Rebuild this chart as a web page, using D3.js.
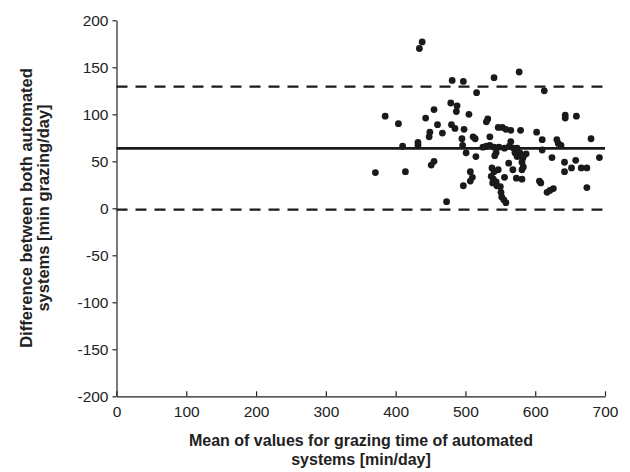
<!DOCTYPE html>
<html>
<head>
<meta charset="utf-8">
<script src="https://cdn.jsdelivr.net/npm/d3@7"></script>
<style>
  body { margin: 0; background: #fff; }
  svg { display: block; }
  .axis text { font-family: "Liberation Sans", Arial, sans-serif; font-size: 15.5px; fill: #222; }
  .axis path, .axis line { stroke: #222; stroke-width: 1.2; }
  .title { font-family: "Liberation Sans", Arial, sans-serif; font-weight: bold; fill: #222; }
</style>
</head>
<body>
<svg id="chart"></svg>
<script>
// Mean of both systems (x) and their difference (y)
var meanValues = [
  438, 434, 481, 497, 516, 541, 577, 613, 479, 488,
  455, 487, 505, 385, 404, 443, 460, 480, 485, 498,
  532, 530, 449, 448, 467, 495, 511, 514, 535, 432,
  432, 410, 496, 525, 501, 515, 455, 451, 371, 414,
  507, 510, 507, 497, 473, 547, 553, 558, 565, 579,
  565, 535, 530, 541, 548, 556, 563, 569, 574, 544,
  542, 571, 578, 574, 582, 587, 583, 581, 583, 581,
  562, 568, 538, 541, 547, 537, 540, 544, 539, 556,
  573, 581, 545, 550, 551, 552, 555, 558, 602, 610,
  631, 633, 637, 643, 643, 659, 680, 610, 624, 642,
  642, 658, 652, 666, 674, 692, 606, 608, 674, 617,
  621, 626
]
var differences = [
  177, 170, 136, 135, 123, 139, 145, 125, 112, 109,
  105, 103, 100, 98, 90, 96, 89, 89, 85, 84,
  95, 92, 81, 76, 80, 74, 76, 74, 76, 70,
  67, 66, 67, 65, 59, 55, 50, 46, 38, 39,
  39, 33, 29, 24, 7, 86, 86, 84, 83, 83,
  71, 67, 66, 65, 65, 64, 66, 64, 64, 59,
  56, 59, 59, 55, 53, 58, 55, 49, 44, 41,
  48, 41, 43, 39, 41, 34, 31, 28, 27, 33,
  32, 31, 24, 23, 17, 12, 9, 6, 81, 73,
  73, 69, 67, 99, 96, 98, 74, 62, 54, 49,
  39, 51, 43, 43, 43, 54, 29, 27, 22, 17,
  19, 21
]
// Mean difference and limits of agreement
var meanDiff = [63.8]
var limits = [129.4, -1.4]
var xTicks = [0, 100, 200, 300, 400, 500, 600, 700]
var yTicks = [-200, -150, -100, -50, 0, 50, 100, 150, 200]

var WIDTH = 630
var HEIGHT = 472
var margin = { top: 20.3, right: 25, bottom: 75.7, left: 116.5 }
var innerW = WIDTH - margin.left - margin.right
var innerH = HEIGHT - margin.top - margin.bottom

var svg = d3.select('#chart')
  .attr('width', WIDTH)
  .attr('height', HEIGHT)

var g = svg.append('g')
  .attr('transform', 'translate(' + margin.left + ',' + margin.top + ')')

var x = d3.scaleLinear().domain([0, 700]).range([0, innerW])
var y = d3.scaleLinear().domain([-200, 200]).range([innerH, 0])

// Axes (plain hyphen for negatives, as in the original)
g.append('g')
  .attr('class', 'axis')
  .call(d3.axisLeft(y).tickValues(yTicks).tickSizeInner(4).tickSizeOuter(0).tickPadding(4)
    .tickFormat(function (d) { return String(d) }))

g.append('g')
  .attr('class', 'axis')
  .attr('transform', 'translate(0,' + innerH + ')')
  .call(d3.axisBottom(x).tickValues(xTicks).tickSizeInner(-5).tickSizeOuter(0).tickPadding(10))

// Reference lines
g.append('g')
  .selectAll('line.mean')
  .data(meanDiff)
  .enter().append('line')
  .attr('x1', x(0)).attr('x2', x(700))
  .attr('y1', function (d) { return y(d) })
  .attr('y2', function (d) { return y(d) })
  .style('stroke', '#1a1a1a')
  .style('stroke-width', 2.6)

g.append('g')
  .selectAll('line')
  .data(limits)
  .enter().append('line')
  .attr('x1', x(0)).attr('x2', x(700))
  .attr('y1', function (d) { return y(d) })
  .attr('y2', function (d) { return y(d) })
  .style('stroke', '#1a1a1a')
  .style('stroke-width', 2.4)
  .style('stroke-dasharray', '11,8')

// Points
g.append('g')
  .selectAll('circle')
  .data(meanValues)
  .enter().append('circle')
  .attr('cx', function (d) { return x(d) })
  .attr('cy', function (d, i) { return y(differences[i]) })
  .attr('r', 3.4)
  .style('fill', '#1a1a1a')

// Titles
var xTitle = svg.append('text')
  .attr('class', 'title')
  .style('font-size', '16px')
  .attr('text-anchor', 'middle')
  .attr('x', 361)
  .attr('y', 446)
xTitle.append('tspan').attr('x', 361).text('Mean of values for grazing time of automated')
xTitle.append('tspan').attr('x', 361).attr('dy', 19).text('systems [min/day]')

var yTitle = svg.append('text')
  .attr('class', 'title')
  .style('font-size', '16.5px')
  .attr('text-anchor', 'middle')
  .attr('transform', 'translate(32,208) rotate(-90)')
yTitle.append('tspan').attr('x', 0).attr('y', 0).text('Difference between both automated')
yTitle.append('tspan').attr('x', 0).attr('dy', 17).text('systems [min grazing/day]')
</script>
</body>
</html>
